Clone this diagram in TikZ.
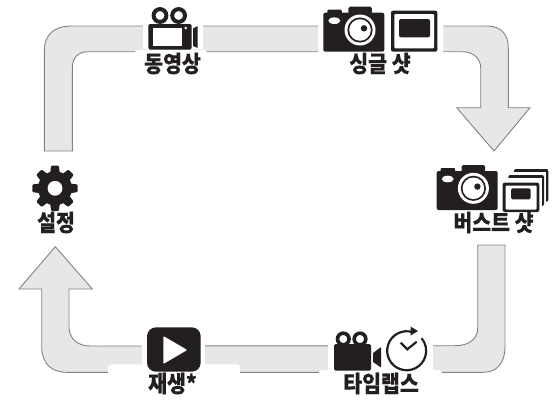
\documentclass[tikz,border=0pt]{standalone}
\usepackage{fontspec}
\setmainfont{Noto Sans CJK KR}[BoldFeatures={FakeBold=0.25}]
\definecolor{ink}{HTML}{231F20}
\definecolor{bandfill}{HTML}{E6E7E8}
\definecolor{bandline}{HTML}{808285}
\newcommand{\tallbox}[1]{\scalebox{1}[1.12]{#1}}
\tikzset{
  x=1pt,y=-1pt,
  bandstroke/.style={draw=bandline,line width=0.9pt,line join=miter},
  bandbody/.style={fill=bandfill},
  mask/.style={fill=white,rounded corners=3pt},
  lab/.style={font=\fontsize{20.5}{21}\selectfont\bfseries,text=ink,inner sep=0pt,anchor=center},
  cameraicon/.pic={
    \fill[ink,rounded corners=1pt] (4,1) -- (4,-3) -- (18.5,-3) -- (18.5,1) -- cycle;
    \fill[ink,rounded corners=1.5pt] (25,1) -- (25,-6) -- (48.5,-6) -- (48.5,1) -- cycle;
    \fill[ink,rounded corners=2pt] (0,0) rectangle (61,39);
    \fill[white] (11,8) ellipse [x radius=6,y radius=3.3];
    \fill[white] (36.7,17.3) circle (15.5);
    \fill[ink] (36.7,17.3) circle (12.6);
    \fill[white] (36.7,17.3) circle (10.8);
    \fill[ink] (40.7,15.6) circle (3.2);
  }
}
\begin{document}
\begin{tikzpicture}
\useasboundingbox (0,0) rectangle (556,399);
% band: top left
\path[bandbody] (44.4,151) -- (44.4,50) .. controls (44.4,34) and (55,26) .. (71.7,26) -- (318,26) -- (318,51.7) -- (88,51.7) .. controls (78,51.7) and (72.3,58) .. (72.3,68) -- (72.3,151) -- cycle;
\draw[bandstroke] (318,26) -- (71.7,26) .. controls (55,26) and (44.4,34) .. (44.4,50) -- (44.4,151) -- (72.3,151) -- (72.3,68) .. controls (72.3,58) and (78,51.7) .. (88,51.7) -- (318,51.7);
\fill[white] (143,18) rectangle (203,49);
\fill[mask] (135,49.8) rectangle (207,80);
% band: top right
\path[bandbody] (443.3,26) -- (486.7,26) .. controls (501,26) and (508.3,34) .. (508.3,48.3) -- (508.3,107.7) -- (530,107.7) -- (494,151) -- (456.7,107.7) -- (480.7,107.7) -- (480.7,68) .. controls (480.7,58) and (473,51.7) .. (461.7,51.7) -- (443.3,51.7) -- cycle;
\draw[bandstroke] (443.3,26) -- (486.7,26) .. controls (501,26) and (508.3,34) .. (508.3,48.3) -- (508.3,107.7) -- (530,107.7) -- (494,151) -- (456.7,107.7) -- (480.7,107.7) -- (480.7,68) .. controls (480.7,58) and (473,51.7) .. (461.7,51.7) -- (443.3,51.7);
% band: lower
\path[bandbody] (477.7,245) -- (505,245) -- (505,346.7) .. controls (505,363) and (497,372.3) .. (483.3,372.3) -- (66.7,372.3) .. controls (51,372.3) and (41.7,363) .. (41.7,346.7) -- (41.7,289) -- (19,289) -- (55.3,246.7) -- (92.3,289) -- (69,289) -- (69,326.7) .. controls (69,338) and (77,346) .. (90,346) -- (455,345.7) .. controls (469,345.7) and (477.7,339) .. (477.7,328) -- cycle;
\draw[bandstroke] (433,345.7) -- (455,345.7) .. controls (469,345.7) and (477.7,339) .. (477.7,328) -- (477.7,245) -- (505,245) -- (505,346.7) .. controls (505,363) and (497,372.3) .. (483.3,372.3) -- (66.7,372.3) .. controls (51,372.3) and (41.7,363) .. (41.7,346.7) -- (41.7,289) -- (19,289) -- (55.3,246.7) -- (92.3,289) -- (69,289) -- (69,326.7) .. controls (69,338) and (77,346) .. (90,346) -- (433,345.7);
\fill[white] (142,340) rectangle (205,366);
\fill[mask] (108,364.3) rectangle (240,395);
\fill[white] (328,340) rectangle (433,372);
\fill[mask] (319,370) rectangle (442,395);
% video camera (top)
\draw[ink,line width=4pt] (160,15.5) circle (6.4) (178.6,15.5) circle (6.4);
\fill[ink,rounded corners=1.5pt] (148.3,24) rectangle (191.5,49.5);
\fill[white] (153.3,28) rectangle (181.7,46);
\fill[white] (185.7,28) circle (1.3);
\fill[ink,rounded corners=0.5pt] (193,28.5) -- (197.7,26) -- (197.7,48) -- (193,46) -- cycle;
% single shot
\pic at (323.3,12.7) {cameraicon};
\fill[ink,rounded corners=2pt] (391,10.7) rectangle (437.3,51.7);
\fill[white,rounded corners=1pt] (394.3,14) rectangle (434,48.3);
\fill[ink,rounded corners=2pt] (399,19) rectangle (430,37.3);
% burst shot
\pic at (436.7,171) {cameraicon};
\fill[ink,rounded corners=2pt] (514,169) rectangle (548.3,201.7);
\fill[white] (511,171.5) rectangle (545.8,210);
\fill[ink,rounded corners=2pt] (508.3,175) rectangle (544,206);
\fill[white] (505.5,177.5) rectangle (541.5,210);
\fill[ink,rounded corners=2pt] (502.7,182.7) rectangle (539.3,212);
\fill[white,rounded corners=1pt] (505.5,185.5) rectangle (536.5,209.5);
\fill[ink,rounded corners=1.5pt] (511,188.3) rectangle (530.7,199.3);
% gear
\begin{scope}[shift={(55,188.3)}]
  \fill[ink] (0,0) circle (17);
  \foreach \a in {0,45,...,315}
    \fill[ink,rotate=\a,rounded corners=1pt] (-5,-14) -- (-3.8,-22.7) -- (3.8,-22.7) -- (5,-14) -- cycle;
  \fill[white] (0,0) circle (7.4);
\end{scope}
% timelapse camera
\draw[ink,line width=3.6pt] (343.3,339) circle (5.8) (360,339) circle (5.8);
\fill[ink,rounded corners=1.5pt] (334,344) rectangle (371,370.7);
\fill[ink,rounded corners=0.5pt] (373,353) -- (381,347) -- (381,367.5) -- (373,362) -- cycle;
% clock
\draw[ink,line width=2.2pt] (412.7,332.2) arc[start angle=-72,end angle=-400,radius=19.5];
\fill[ink] (418,331) -- (410.5,326.5) -- (410.5,335.5) -- cycle;
\draw[ink,line width=2.2pt] (400.7,342.7) -- (407.3,349.3) -- (416.7,341.7);
% play
\fill[ink,rounded corners=9pt] (147,327.3) rectangle (200.7,371.7);
\fill[white,rounded corners=1pt] (163.3,336) -- (187.3,350) -- (163.3,364) -- cycle;
% labels
\node[lab] (movie) at (172.5,63.5) {\tallbox{동영상}};
\node[lab] (single) at (380,63.5) {\tallbox{싱글 샷}};
\node[lab] (burst) at (493.5,222.5) {\tallbox{버스트 샷}};
\node[lab] (setup) at (56,222.5) {\tallbox{설정}};
\node[lab] (play) at (172.5,383.5) {\tallbox{재생*}};
\node[lab] (lapse) at (381,383.5) {\tallbox{타임랩스}};
\end{tikzpicture}
\end{document}
